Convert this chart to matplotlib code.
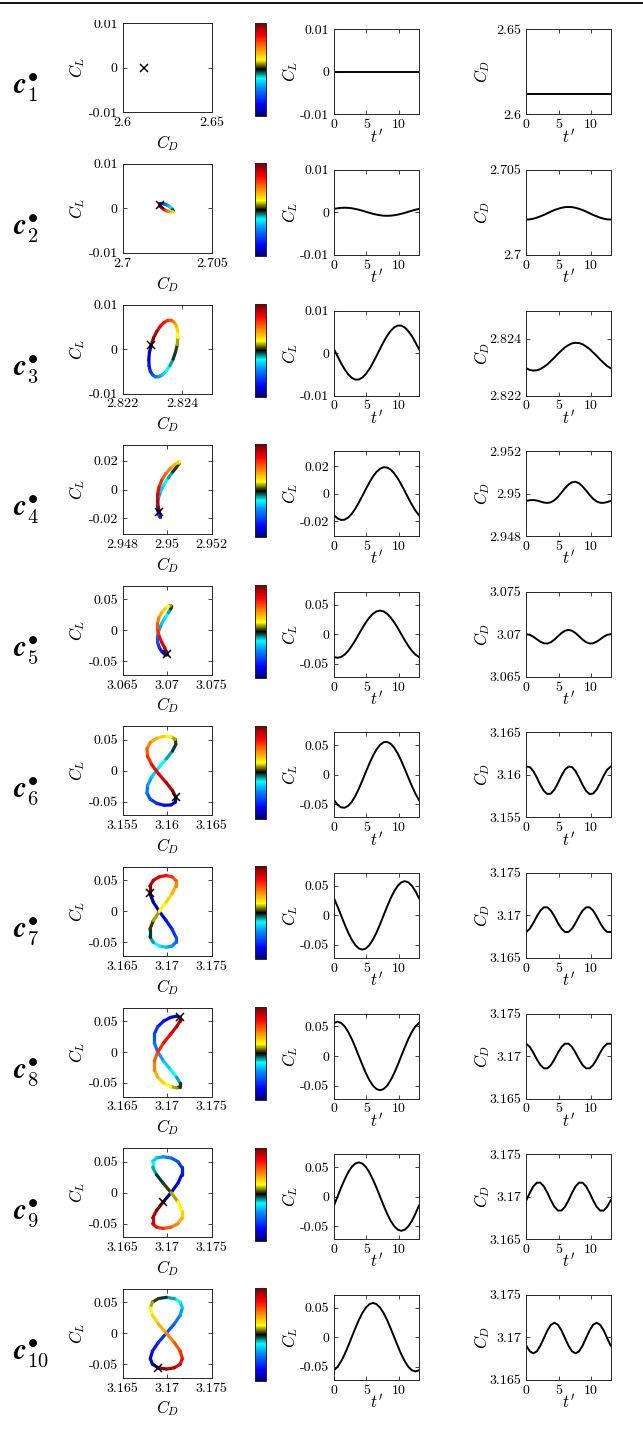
import numpy as np
import matplotlib
matplotlib.use("Agg")
import matplotlib.pyplot as plt
from matplotlib.collections import LineCollection
from matplotlib.colors import LinearSegmentedColormap, Normalize
from matplotlib.cm import ScalarMappable
from matplotlib.lines import Line2D
from matplotlib.patches import Rectangle

plt.rcParams['mathtext.fontset'] = 'cm'
plt.rcParams['font.family'] = ['cmr10', 'DejaVu Serif']
plt.rcParams['axes.unicode_minus'] = False

# ---------------- data ----------------
t_prime = [0.00, 0.55, 1.09, 1.64, 2.18, 2.73, 3.28, 3.82, 4.37, 4.91, 5.46, 6.00, 6.55,
           7.10, 7.64, 8.19, 8.73, 9.28, 9.83, 10.37, 10.92, 11.46, 12.01, 12.55, 13.10]

cl_c1 = [0.0] * 25
cd_c1 = [2.612] * 25

cl_c2 = [0.00082, 0.00097, 0.00107, 0.00110, 0.00107, 0.00097, 0.00082, 0.00063, 0.00040, 0.00015,
         -0.00010, -0.00033, -0.00052, -0.00067, -0.00077, -0.00080, -0.00077, -0.00067, -0.00052,
         -0.00033, -0.00010, 0.00015, 0.00040, 0.00063, 0.00082]
cd_c2 = [2.70208, 2.70209, 2.70213, 2.70219, 2.70227, 2.70235, 2.70245, 2.70255, 2.70264, 2.70271,
         2.70277, 2.70281, 2.70282, 2.70281, 2.70277, 2.70271, 2.70264, 2.70255, 2.70245, 2.70235,
         2.70227, 2.70219, 2.70213, 2.70209, 2.70208]

cl_c3 = [0.00088, -0.00079, -0.00240, -0.00384, -0.00501, -0.00583, -0.00626, -0.00624, -0.00579,
         -0.00494, -0.00376, -0.00230, -0.00068, 0.00099, 0.00260, 0.00404, 0.00521, 0.00603, 0.00646,
         0.00644, 0.00599, 0.00514, 0.00396, 0.00250, 0.00088]
cd_c3 = [2.82296, 2.82290, 2.82288, 2.82289, 2.82293, 2.82301, 2.82310, 2.82322, 2.82334, 2.82347,
         2.82359, 2.82370, 2.82378, 2.82384, 2.82386, 2.82385, 2.82381, 2.82373, 2.82364, 2.82352,
         2.82340, 2.82327, 2.82315, 2.82304, 2.82296]

cl_c4 = [-0.01581, -0.01814, -0.01922, -0.01901, -0.01751, -0.01478, -0.01108, -0.00660, -0.00168,
         0.00334, 0.00814, 0.01239, 0.01581, 0.01814, 0.01922, 0.01901, 0.01751, 0.01478, 0.01108,
         0.00660, 0.00168, -0.00334, -0.00814, -0.01239, -0.01581]
cd_c4 = [2.949653, 2.949690, 2.949698, 2.949673, 2.949626, 2.949579, 2.949560, 2.949593, 2.949690,
         2.949848, 2.950046, 2.950252, 2.950426, 2.950535, 2.950557, 2.950487, 2.950339, 2.950143,
         2.949937, 2.949757, 2.949630, 2.949568, 2.949565, 2.949602, 2.949653]

cl_c5 = [-0.0386, -0.0400, -0.0386, -0.0346, -0.0283, -0.0200, -0.0104, 0.0000, 0.0104, 0.0200,
         0.0283, 0.0346, 0.0386, 0.0400, 0.0386, 0.0346, 0.0283, 0.0200, 0.0104, 0.0000, -0.0104,
         -0.0200, -0.0283, -0.0346, -0.0386]
cd_c5 = [3.070005, 3.069923, 3.069701, 3.069403, 3.069118, 3.068931, 3.068905, 3.069060, 3.069368,
         3.069757, 3.070134, 3.070406, 3.070505, 3.070406, 3.070134, 3.069757, 3.069368, 3.069060,
         3.068905, 3.068931, 3.069118, 3.069403, 3.069701, 3.069923, 3.070005]

cl_c6 = [-0.0429, -0.0508, -0.0552, -0.0558, -0.0526, -0.0459, -0.0360, -0.0237, -0.0097, 0.0049,
         0.0192, 0.0321, 0.0429, 0.0508, 0.0552, 0.0558, 0.0526, 0.0459, 0.0360, 0.0237, 0.0097,
         -0.0049, -0.0192, -0.0321, -0.0429]
cd_c6 = [3.16097, 3.16091, 3.16043, 3.15967, 3.15881, 3.15810, 3.15773, 3.15779, 3.15827, 3.15903,
         3.15989, 3.16060, 3.16097, 3.16091, 3.16043, 3.15967, 3.15881, 3.15810, 3.15773, 3.15779,
         3.15827, 3.15903, 3.15989, 3.16060, 3.16097]

cl_c7 = [0.0290, 0.0150, 0.0000, -0.0150, -0.0290, -0.0410, -0.0502, -0.0560, -0.0580, -0.0560,
         -0.0502, -0.0410, -0.0290, -0.0150, 0.0000, 0.0150, 0.0290, 0.0410, 0.0502, 0.0560, 0.0580,
         0.0560, 0.0502, 0.0410, 0.0290]
cd_c7 = [3.16805, 3.16844, 3.16911, 3.16989, 3.17056, 3.17095, 3.17095, 3.17056, 3.16989, 3.16911,
         3.16844, 3.16805, 3.16805, 3.16844, 3.16911, 3.16989, 3.17056, 3.17095, 3.17095, 3.17056,
         3.16989, 3.16911, 3.16844, 3.16805, 3.16805]

cl_c8 = [0.0560, 0.0580, 0.0560, 0.0502, 0.0410, 0.0290, 0.0150, 0.0000, -0.0150, -0.0290, -0.0410,
         -0.0502, -0.0560, -0.0580, -0.0560, -0.0502, -0.0410, -0.0290, -0.0150, 0.0000, 0.0150,
         0.0290, 0.0410, 0.0502, 0.0560]
cd_c8 = [3.17145, 3.17106, 3.17039, 3.16961, 3.16894, 3.16855, 3.16855, 3.16894, 3.16961, 3.17039,
         3.17106, 3.17145, 3.17145, 3.17106, 3.17039, 3.16961, 3.16894, 3.16855, 3.16855, 3.16894,
         3.16961, 3.17039, 3.17106, 3.17145, 3.17145]

cl_c9 = [-0.0150, 0.0000, 0.0150, 0.0290, 0.0410, 0.0502, 0.0560, 0.0580, 0.0560, 0.0502, 0.0410,
         0.0290, 0.0150, 0.0000, -0.0150, -0.0290, -0.0410, -0.0502, -0.0560, -0.0580, -0.0560,
         -0.0502, -0.0410, -0.0290, -0.0150]
cd_c9 = [3.16956, 3.17044, 3.17120, 3.17164, 3.17164, 3.17120, 3.17044, 3.16956, 3.16880, 3.16836,
         3.16836, 3.16880, 3.16956, 3.17044, 3.17120, 3.17164, 3.17164, 3.17120, 3.17044, 3.16956,
         3.16880, 3.16836, 3.16836, 3.16880, 3.16956]

cl_c10 = [-0.0560, -0.0502, -0.0410, -0.0290, -0.0150, 0.0000, 0.0150, 0.0290, 0.0410, 0.0502,
          0.0560, 0.0580, 0.0560, 0.0502, 0.0410, 0.0290, 0.0150, 0.0000, -0.0150, -0.0290, -0.0410,
          -0.0502, -0.0560, -0.0580, -0.0560]
cd_c10 = [3.16900, 3.16834, 3.16810, 3.16834, 3.16900, 3.16990, 3.17080, 3.17146, 3.17170, 3.17146,
          3.17080, 3.16990, 3.16900, 3.16834, 3.16810, 3.16834, 3.16900, 3.16990, 3.17080, 3.17146,
          3.17170, 3.17146, 3.17080, 3.16990, 3.16900]

cl_series = [cl_c1, cl_c2, cl_c3, cl_c4, cl_c5, cl_c6, cl_c7, cl_c8, cl_c9, cl_c10]
cd_series = [cd_c1, cd_c2, cd_c3, cd_c4, cd_c5, cd_c6, cd_c7, cd_c8, cd_c9, cd_c10]

row_labels = [r'$\boldsymbol{c}^{\bullet}_{%d}$' % k for k in range(1, 11)]

cd_limits = [(2.6, 2.65), (2.7, 2.705), (2.822, 2.825), (2.948, 2.952), (3.065, 3.075),
             (3.155, 3.165), (3.165, 3.175), (3.165, 3.175), (3.165, 3.175), (3.165, 3.175)]
cd_ticks = [['2.6', '2.65'], ['2.7', '2.705'], ['2.822', '2.824'], ['2.948', '2.95', '2.952'],
            ['3.065', '3.07', '3.075'], ['3.155', '3.16', '3.165'], ['3.165', '3.17', '3.175'],
            ['3.165', '3.17', '3.175'], ['3.165', '3.17', '3.175'], ['3.165', '3.17', '3.175']]
cl_limits = [(-0.01, 0.01), (-0.01, 0.01), (-0.01, 0.01), (-0.031, 0.031), (-0.072, 0.072),
             (-0.072, 0.072), (-0.072, 0.072), (-0.072, 0.072), (-0.072, 0.072), (-0.072, 0.072)]
cl_ticks = [['-0.01', '0', '0.01']] * 3 + [['-0.02', '0', '0.02']] + [['-0.05', '0', '0.05']] * 6
t_ticks = ['0', '5', '10']
t_limit = (0, 13.1)

# ---------------- style ----------------
cmap = LinearSegmentedColormap.from_list('bcyr', [
    (0.00, (0.00, 0.00, 0.45)), (0.12, (0.00, 0.00, 1.00)), (0.30, (0.00, 0.55, 1.00)),
    (0.40, (0.00, 1.00, 1.00)), (0.50, (0.00, 0.00, 0.00)), (0.60, (1.00, 1.00, 0.00)),
    (0.72, (1.00, 0.55, 0.00)), (0.86, (1.00, 0.00, 0.00)), (1.00, (0.45, 0.00, 0.00))])
edge = '#262626'
W, H = 643, 1440
fig = plt.figure(figsize=(W / 100, H / 100), dpi=100)

def fax(left, top, w, h):
    return fig.add_axes([left / W, 1 - (top + h) / H, w / W, h / H])

def style(ax):
    for s in ax.spines.values():
        s.set_linewidth(0.7)
        s.set_color(edge)
    ax.tick_params(direction='in', length=3, width=0.6, top=True, right=True,
                   colors=edge, labelcolor='black', labelsize=10, pad=3.5)

FS = 12
dy = 140.6
for i in range(10):
    off = i * dy
    cl = np.array(cl_series[i])
    cd = np.array(cd_series[i])
    tt = np.array(t_prime)

    # row label
    fig.text(13 / W, 1 - (88 + off) / H, row_labels[i], fontsize=21, ha='left', va='center')

    # phase portrait
    ax = fax(122.7, 23.3 + off, 89, 89)
    style(ax)
    pts = np.column_stack([cd, cl])
    segs = np.stack([pts[:-1], pts[1:]], axis=1)
    lc = LineCollection(segs, cmap=cmap, norm=Normalize(0, tt[-1]), linewidth=2.3,
                        capstyle='round')
    lc.set_array(0.5 * (tt[:-1] + tt[1:]))
    ax.add_collection(lc)
    ax.plot(cd[0], cl[0], 'x', color='k', ms=6, mew=1.1, zorder=5)
    ax.set_xlim(*cd_limits[i])
    ax.set_ylim(*cl_limits[i])
    ax.set_xticks([float(s) for s in cd_ticks[i]])
    ax.set_xticklabels(cd_ticks[i])
    ax.set_yticks([float(s) for s in cl_ticks[i]])
    ax.set_yticklabels(cl_ticks[i])
    ax.set_xlabel(r'$C_D$', fontsize=FS, va='center', ha='center')
    ax.xaxis.set_label_coords(0.5, -0.345)
    ax.set_ylabel(r'$C_L$', fontsize=FS, va='center', ha='center')
    ax.yaxis.set_label_coords(-0.515, 0.5)

    # colorbar
    cax = fax(255, 22.7 + off, 10.7, 93)
    cb = fig.colorbar(ScalarMappable(norm=Normalize(0, tt[-1]), cmap=cmap), cax=cax)
    cb.set_ticks([])
    cb.outline.set_linewidth(0.7)
    cb.outline.set_edgecolor(edge)

    # CL time series
    ax2 = fax(334, 29.3 + off, 85, 85)
    style(ax2)
    ax2.plot(tt, cl, color='k', lw=1.4)
    ax2.set_xlim(*t_limit)
    ax2.set_ylim(*cl_limits[i])
    ax2.set_xticks([float(s) for s in t_ticks])
    ax2.set_xticklabels(t_ticks)
    ax2.set_yticks([float(s) for s in cl_ticks[i]])
    ax2.set_yticklabels(cl_ticks[i])
    ax2.set_xlabel(r"$t'$", fontsize=FS, va='center', ha='center')
    ax2.xaxis.set_label_coords(0.5, -0.265)
    ax2.set_ylabel(r'$C_L$', fontsize=FS, va='center', ha='center')
    ax2.yaxis.set_label_coords(-0.52, 0.5)

    # CD time series
    ax3 = fax(526.3, 29.3 + off, 84.4, 85)
    style(ax3)
    ax3.plot(tt, cd, color='k', lw=1.4)
    ax3.set_xlim(*t_limit)
    ax3.set_ylim(*cd_limits[i])
    ax3.set_xticks([float(s) for s in t_ticks])
    ax3.set_xticklabels(t_ticks)
    ax3.set_yticks([float(s) for s in cd_ticks[i]])
    ax3.set_yticklabels(cd_ticks[i])
    ax3.set_xlabel(r"$t'$", fontsize=FS, va='center', ha='center')
    ax3.xaxis.set_label_coords(0.5, -0.265)
    ax3.set_ylabel(r'$C_D$', fontsize=FS, va='center', ha='center')
    ax3.yaxis.set_label_coords(-0.52, 0.5)

# page crop above the first row and the rule line
fig.add_artist(Rectangle((0, 1 - 20 / H), 1, 15.5 / H, transform=fig.transFigure,
                         facecolor='white', edgecolor='none', zorder=10))
fig.add_artist(Line2D([0, 1], [1 - 3 / H, 1 - 3 / H], color='black', lw=1.3,
                      transform=fig.transFigure, zorder=11))

fig.savefig('out.png', dpi=100)
